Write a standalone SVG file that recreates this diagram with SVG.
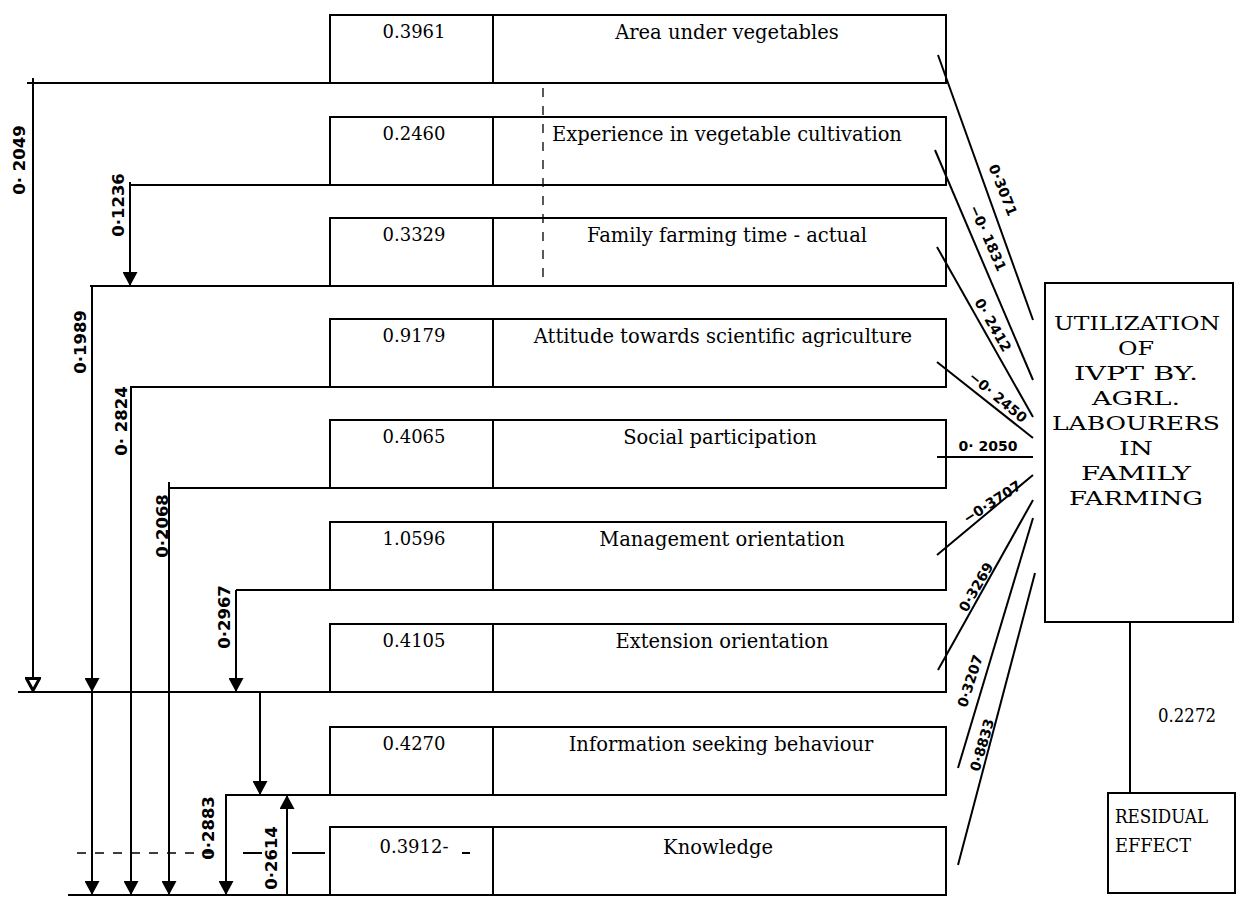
<svg xmlns="http://www.w3.org/2000/svg" width="1241" height="897" viewBox="0 0 1241 897">
<style>
.box{fill:none;stroke:#000;stroke-width:2}
.ln{stroke:#000;stroke-width:2;fill:none}
.dash{stroke:#000;stroke-width:1.3;fill:none;stroke-dasharray:9 9}
.val{font-family:"DejaVu Serif","Liberation Serif",serif;font-size:18px;fill:#000;text-anchor:middle}
.lab{font-family:"DejaVu Serif","Liberation Serif",serif;font-size:19.5px;fill:#000;text-anchor:middle}
.big{font-family:"DejaVu Serif","Liberation Serif",serif;font-size:19px;fill:#000;text-anchor:middle}
.res{font-family:"DejaVu Serif","Liberation Serif",serif;font-size:18px;fill:#000}
.co{font-family:"DejaVu Sans","Liberation Sans",sans-serif;font-size:16.5px;font-weight:bold;fill:#000;text-anchor:middle;dominant-baseline:central}
.cr{font-family:"DejaVu Sans","Liberation Sans",sans-serif;font-size:14px;font-weight:bold;fill:#000;text-anchor:middle;dominant-baseline:central}
</style>
<defs>
<marker id="arr" viewBox="0 0 14 15" refX="14" refY="7.5" markerWidth="14" markerHeight="15" markerUnits="userSpaceOnUse" orient="auto">
<path d="M0,0 L14,7.5 L0,15 z" fill="#000"/>
</marker>
<marker id="arrh" viewBox="0 0 15 16" refX="14" refY="8" markerWidth="15" markerHeight="16" markerUnits="userSpaceOnUse" orient="auto">
<path d="M1.5,1.5 L13.5,8 L1.5,14.5 z" fill="#fff" stroke="#000" stroke-width="3"/>
</marker>
</defs>
<rect width="1241" height="897" fill="#fff"/>

<g id="connectors">
<line class="ln" x1="27" y1="83" x2="946" y2="83"/>
<line class="ln" x1="130" y1="185" x2="946" y2="185"/>
<line class="ln" x1="90" y1="286" x2="946" y2="286"/>
<line class="ln" x1="130" y1="387" x2="946" y2="387"/>
<line class="ln" x1="168" y1="488" x2="946" y2="488"/>
<line class="ln" x1="236" y1="590" x2="946" y2="590"/>
<line class="ln" x1="18" y1="692" x2="946" y2="692"/>
<line class="ln" x1="225" y1="795" x2="946" y2="795"/>
<line class="ln" x1="68" y1="895" x2="946" y2="895"/>
<line class="ln" x1="33" y1="78" x2="33" y2="691" marker-end="url(#arrh)"/>
<line class="ln" x1="130" y1="182" x2="130" y2="286" marker-end="url(#arr)"/>
<line class="ln" x1="92" y1="286" x2="92" y2="692" marker-end="url(#arr)"/>
<line class="ln" x1="92" y1="692" x2="92" y2="895" marker-end="url(#arr)"/>
<line class="ln" x1="131" y1="387" x2="131" y2="895" marker-end="url(#arr)"/>
<line class="ln" x1="169" y1="482" x2="169" y2="895" marker-end="url(#arr)"/>
<line class="ln" x1="236" y1="590" x2="236" y2="692" marker-end="url(#arr)"/>
<line class="ln" x1="260" y1="692" x2="260" y2="795" marker-end="url(#arr)"/>
<line class="ln" x1="226" y1="795" x2="226" y2="895" marker-end="url(#arr)"/>
<line class="ln" x1="287" y1="895" x2="287" y2="795" marker-end="url(#arr)"/>
<line class="ln" x1="938" y1="55" x2="1033" y2="320"/>
<line class="ln" x1="935" y1="150" x2="1033" y2="380"/>
<line class="ln" x1="937" y1="247" x2="1033" y2="417"/>
<line class="ln" x1="937" y1="362" x2="1033" y2="438"/>
<line class="ln" x1="937" y1="457" x2="1033" y2="457"/>
<line class="ln" x1="937" y1="555" x2="1033" y2="475"/>
<line class="ln" x1="938" y1="670" x2="1033" y2="500"/>
<line class="ln" x1="958" y1="768" x2="1033" y2="518"/>
<line class="ln" x1="958" y1="865" x2="1035" y2="573"/>
<line class="ln" x1="1130" y1="622" x2="1130" y2="793"/>
<line class="dash" x1="543" y1="88" x2="543" y2="278"/>
<line class="dash" x1="77" y1="853" x2="218" y2="853"/>
<line class="ln" x1="243" y1="853" x2="262" y2="853" stroke-width="1.3"/>
<line class="ln" x1="292" y1="853" x2="325" y2="853" stroke-width="1.3"/>
<line class="ln" x1="462" y1="853" x2="470" y2="853" stroke-width="1.3"/>
</g>

<g id="coef-labels">
<text class="co" transform="translate(19,160) rotate(-90)">0· 2049</text>
<text class="co" transform="translate(118,205) rotate(-90)">0·1236</text>
<text class="co" transform="translate(80,342) rotate(-90)">0·1989</text>
<text class="co" transform="translate(121,421) rotate(-90)">0· 2824</text>
<text class="co" transform="translate(162,526) rotate(-90)">0·2068</text>
<text class="co" transform="translate(224,617) rotate(-90)">0·2967</text>
<text class="co" transform="translate(208,828) rotate(-90)">0·2883</text>
<text class="co" transform="translate(271,858) rotate(-90)">0·2614</text>
<text class="cr" transform="translate(1003,190) rotate(68)">0·3071</text>
<text class="cr" transform="translate(988,238) rotate(66)">−0· 1831</text>
<text class="cr" transform="translate(993,325) rotate(60)">0· 2412</text>
<text class="cr" transform="translate(998,397) rotate(40)">−0· 2450</text>
<text class="cr" transform="translate(988,446)">0· 2050</text>
<text class="cr" transform="translate(992,502) rotate(-33)">−0·3707</text>
<text class="cr" transform="translate(976,587) rotate(-60)">0·3269</text>
<text class="cr" transform="translate(970,681) rotate(-72)">0·3207</text>
<text class="cr" transform="translate(982,745) rotate(-74)">0·8833</text>
<text class="res" x="1158" y="722" textLength="58" lengthAdjust="spacingAndGlyphs">0.2272</text>
</g>

<g id="n1"><rect class="box" x="330" y="15" width="616" height="68"/><line class="ln" x1="493" y1="15" x2="493" y2="83"/><text class="val" x="414" y="38">0.3961</text><text class="lab" x="727" y="39">Area under vegetables</text></g>
<g id="n2"><rect class="box" x="330" y="117" width="616" height="68"/><line class="ln" x1="493" y1="117" x2="493" y2="185"/><text class="val" x="414" y="140">0.2460</text><text class="lab" x="727" y="141">Experience in vegetable cultivation</text></g>
<g id="n3"><rect class="box" x="330" y="218" width="616" height="68"/><line class="ln" x1="493" y1="218" x2="493" y2="286"/><text class="val" x="414" y="241">0.3329</text><text class="lab" x="727" y="242">Family farming time - actual</text></g>
<g id="n4"><rect class="box" x="330" y="319" width="616" height="68"/><line class="ln" x1="493" y1="319" x2="493" y2="387"/><text class="val" x="414" y="342">0.9179</text><text class="lab" x="723" y="343">Attitude towards scientific agriculture</text></g>
<g id="n5"><rect class="box" x="330" y="420" width="616" height="68"/><line class="ln" x1="493" y1="420" x2="493" y2="488"/><text class="val" x="414" y="443">0.4065</text><text class="lab" x="720" y="444">Social participation</text></g>
<g id="n6"><rect class="box" x="330" y="522" width="616" height="68"/><line class="ln" x1="493" y1="522" x2="493" y2="590"/><text class="val" x="414" y="545">1.0596</text><text class="lab" x="722" y="546">Management orientation</text></g>
<g id="n7"><rect class="box" x="330" y="624" width="616" height="68"/><line class="ln" x1="493" y1="624" x2="493" y2="692"/><text class="val" x="414" y="647">0.4105</text><text class="lab" x="722" y="648">Extension orientation</text></g>
<g id="n8"><rect class="box" x="330" y="727" width="616" height="68"/><line class="ln" x1="493" y1="727" x2="493" y2="795"/><text class="val" x="414" y="750">0.4270</text><text class="lab" x="721" y="751">Information seeking behaviour</text></g>
<g id="n9"><rect class="box" x="330" y="827" width="616" height="68"/><line class="ln" x1="493" y1="827" x2="493" y2="895"/><text class="val" x="414" y="853">0.3912-</text><text class="lab" x="718" y="854">Knowledge</text></g>

<g id="dependent">
<rect class="box" x="1045" y="283" width="188" height="339"/>
<text class="big" x="1137" y="330" textLength="166" lengthAdjust="spacingAndGlyphs">UTILIZATION</text>
<text class="big" x="1136" y="355" textLength="36" lengthAdjust="spacingAndGlyphs">OF</text>
<text class="big" x="1136" y="380" textLength="124" lengthAdjust="spacingAndGlyphs">IVPT BY.</text>
<text class="big" x="1136" y="405" textLength="88" lengthAdjust="spacingAndGlyphs">AGRL.</text>
<text class="big" x="1136" y="430" textLength="168" lengthAdjust="spacingAndGlyphs">LABOURERS</text>
<text class="big" x="1136" y="455" textLength="34" lengthAdjust="spacingAndGlyphs">IN</text>
<text class="big" x="1136" y="480" textLength="110" lengthAdjust="spacingAndGlyphs">FAMILY</text>
<text class="big" x="1136" y="505" textLength="134" lengthAdjust="spacingAndGlyphs">FARMING</text>
</g>

<g id="residual">
<rect class="box" x="1108" y="793" width="127" height="100"/>
<text class="res" x="1115" y="823" textLength="93" lengthAdjust="spacingAndGlyphs">RESIDUAL</text>
<text class="res" x="1115" y="852" textLength="76" lengthAdjust="spacingAndGlyphs">EFFECT</text>
</g>
</svg>
